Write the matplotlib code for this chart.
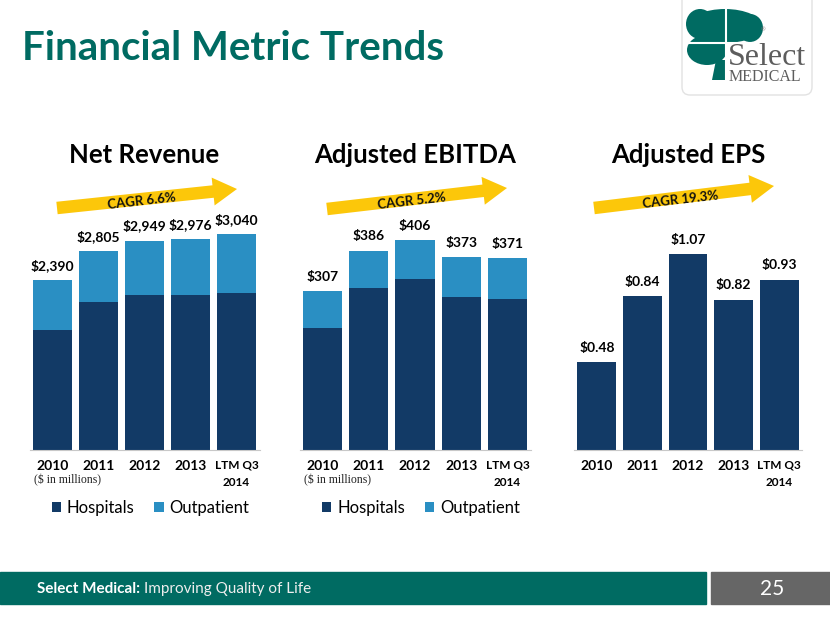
import matplotlib.pyplot as plt
import matplotlib.patches as patches
from matplotlib.patches import FancyArrow, FancyBboxPatch, Ellipse

# data
years = ["2010", "2011", "2012", "2013", "LTM Q3\n2014"]
rev_total = [2390, 2805, 2949, 2976, 3040]
rev_hosp = [1695, 2090, 2190, 2190, 2215]
ebitda_total = [307, 386, 406, 373, 371]
ebitda_hosp = [236, 313, 331, 296, 292]
eps = [0.48, 0.84, 1.07, 0.82, 0.93]
rev_labels = ["$2,390", "$2,805", "$2,949", "$2,976", "$3,040"]
ebitda_labels = ["$307", "$386", "$406", "$373", "$371"]
eps_labels = ["$0.48", "$0.84", "$1.07", "$0.82", "$0.93"]

NAVY = "#123a66"
LIGHT = "#2a8fc3"
TEAL = "#006b62"
YELLOW = "#fcc70a"

plt.rcParams['font.family'] = ['Lato', 'DejaVu Sans']

W, H = 830, 623
fig = plt.figure(figsize=(W / 100, H / 100), dpi=100)

# decoration layer in pixel coordinates
deco = fig.add_axes([0, 0, 1, 1])
deco.set_xlim(0, W)
deco.set_ylim(H, 0)
deco.axis("off")

deco.text(22, 49, "Financial Metric Trends", color=TEAL, fontsize=29,
          fontweight="bold", va="center", ha="left")

# footer
deco.add_patch(patches.Rectangle((0, 572), 706, 32, color=TEAL))
deco.add_patch(patches.Rectangle((711, 572), 119, 32, color="#666666"))
t1 = deco.text(37, 589, "Select Medical:", color="white", fontsize=11,
               fontweight="bold", va="center")
fig.canvas.draw()
bb = t1.get_window_extent().transformed(deco.transData.inverted())
deco.text(max(bb.x0, bb.x1) + 4, 589, "Improving Quality of Life", color="#eeeeee",
          fontsize=11, va="center")
deco.text(772, 589, "25", color="white", fontsize=15, va="center", ha="center")

# logo
deco.add_patch(FancyBboxPatch((682, -8), 130, 103, boxstyle="round,pad=0,rounding_size=8",
                              facecolor="white", edgecolor="#e2e2e2", lw=1))
for (cx, cy, w, h) in [(725, 26, 74, 34), (707, 50, 40, 30), (750, 28, 26, 28),
                       (700, 24, 28, 30), (712, 36, 30, 30)]:
    deco.add_patch(Ellipse((cx, cy), w, h, color=TEAL, lw=0))
deco.add_patch(patches.Polygon([[716, 60], [727, 60], [727, 80], [712, 80]], color=TEAL, lw=0))
deco.add_patch(patches.Rectangle((727, 43), 40, 30, color="white", lw=0))
deco.plot([726, 726], [8, 81], color="white", lw=1.5)
deco.plot([686, 764], [43, 43], color="white", lw=1.5)
deco.text(728, 65, "Select", family="Liberation Serif", color="#5d5d5d",
          fontsize=23, ha="left", va="baseline")
deco.text(729, 81, "MEDICAL", family="Liberation Serif", color="#5d5d5d",
          fontsize=11.5, ha="left", va="baseline")
deco.text(763, 30, "®", color="#777777", fontsize=4, ha="center", va="center")

# CAGR arrows
arrows = [((57, 208), (237, 189), "CAGR 6.6%", 142),
          ((327, 209), (507, 188), "CAGR 5.2%", 412),
          ((594, 208), (774, 186), "CAGR 19.3%", 680)]
for (x0, y0), (x1, y1), txt, tx in arrows:
    deco.add_patch(FancyArrow(x0, y0, x1 - x0, y1 - y0, width=12.5, head_width=28,
                              head_length=24, length_includes_head=True,
                              color=YELLOW, lw=0))
    ty = y0 + (tx - x0) / (x1 - x0) * (y1 - y0) + 1
    deco.text(tx, ty, txt, fontsize=9.5, fontweight="bold", ha="center", va="center_baseline",
              rotation=6.5, rotation_mode="anchor", color="#111111")


def make_ax(left_px, width_px):
    ax = fig.add_axes([left_px / W, (H - 450) / H, width_px / W, 250 / H])
    ax.patch.set_alpha(0)
    for s in ["top", "right", "left"]:
        ax.spines[s].set_visible(False)
    ax.spines["bottom"].set_color("#c8c8c8")
    ax.set_yticks([])
    ax.set_xlim(-0.5, 4.5)
    ax.tick_params(axis="x", length=0, pad=7)
    return ax


def style_ticks(ax):
    ax.set_xticks(range(len(years)))
    ax.set_xticklabels(years, fontweight="bold", fontsize=10)
    last = ax.get_xticklabels()[-1]
    last.set_fontsize(8.5)
    last.set_linespacing(1.75)


def add_labels(ax, vals, labels):
    for i, (v, lab) in enumerate(zip(vals, labels)):
        ax.annotate(lab, (i, v), xytext=(0, 6), textcoords="offset points",
                    ha="center", va="bottom", fontsize=10, fontweight="bold")


x = range(len(years))
bw = 0.85

# Net Revenue
ax1 = make_ax(29.5, 230)
ax1.set_ylim(0, 250 * 14.1)
ax1.bar(x, rev_hosp, bw, color=NAVY, label="Hospitals")
ax1.bar(x, [t - h for t, h in zip(rev_total, rev_hosp)], bw, bottom=rev_hosp,
        color=LIGHT, label="Outpatient")
add_labels(ax1, rev_total, rev_labels)
style_ticks(ax1)

# Adjusted EBITDA
ax2 = make_ax(299.5, 231)
ax2.set_ylim(0, 250 * 1.935)
ax2.bar(x, ebitda_hosp, bw, color=NAVY, label="Hospitals")
ax2.bar(x, [t - h for t, h in zip(ebitda_total, ebitda_hosp)], bw, bottom=ebitda_hosp,
        color=LIGHT, label="Outpatient")
add_labels(ax2, ebitda_total, ebitda_labels)
style_ticks(ax2)

# Adjusted EPS
ax3 = make_ax(574, 228)
ax3.set_ylim(0, 250 * 0.00546)
ax3.bar(x, eps, bw, color=NAVY)
add_labels(ax3, eps, eps_labels)
style_ticks(ax3)

for ax, title in [(ax1, "Net Revenue"), (ax2, "Adjusted EBITDA"), (ax3, "Adjusted EPS")]:
    ax.text(0.5, (450 - 155) / 250, title, transform=ax.transAxes, ha="center",
            va="center", fontsize=18.5, fontweight="bold")

for ax in (ax1, ax2):
    ax.text(4 / 230, -30 / 250, "($ in millions)", transform=ax.transAxes,
            family="Liberation Serif", fontsize=8.5, ha="left", va="center", color="#222222")
    ax.legend(loc="center", bbox_to_anchor=(0.526, -58 / 250), ncol=2, frameon=False,
              fontsize=12, handlelength=0.55, handleheight=0.55, handletextpad=0.35,
              columnspacing=1.2)

fig.savefig("out.png", dpi=100)
